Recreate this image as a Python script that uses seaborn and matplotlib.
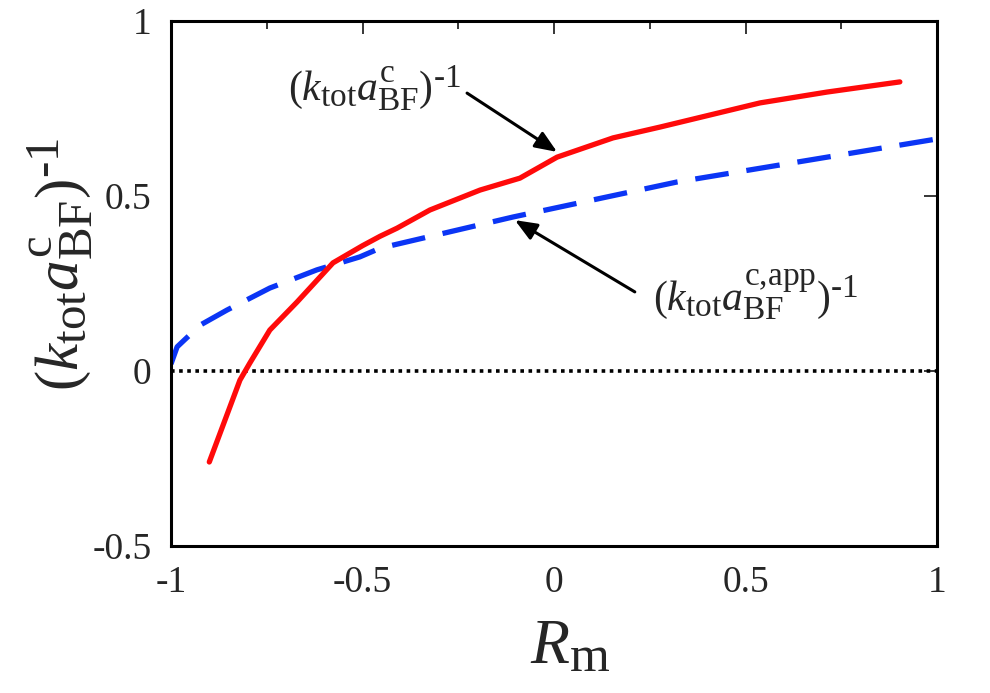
import matplotlib
matplotlib.use("Agg")
import matplotlib.pyplot as plt
import seaborn as sns
import numpy as np
from matplotlib.ticker import FixedLocator

try:
    import matplotlib._mathtext as _mt
    _mt.SHRINK_FACTOR = 0.8
except Exception:
    pass

# ---- data ----
red_x = [-0.90, -0.82, -0.794, -0.742, -0.671, -0.577, -0.50, -0.454, -0.41, -0.324,
         -0.193, -0.089, 0.008, 0.154, 0.277, 0.538, 0.713, 0.903]
red_y = [-0.26, -0.026, 0.023, 0.117, 0.197, 0.309, 0.358, 0.385, 0.408, 0.46,
         0.517, 0.551, 0.611, 0.666, 0.697, 0.766, 0.797, 0.826]

blue_x = [-1.0, -0.984, -0.924, -0.854, -0.742, -0.619, -0.507, -0.454, -0.107,
          0.321, 0.713, 1.0]
blue_y = [0.02, 0.069, 0.131, 0.174, 0.237, 0.289, 0.326, 0.351, 0.44,
          0.54, 0.611, 0.663]

x_ticks = [-1, -0.5, 0, 0.5, 1]
x_tick_labels = ["-1", "-0.5", "0", "0.5", "1"]
x_minor = [-0.75, -0.25, 0.25, 0.75]
y_ticks = [-0.5, 0, 0.5, 1]
y_tick_labels = ["-0.5", "0", "0.5", "1"]

label_red = r"$(k_{\rm tot}a_{\rm BF}^{\rm c})^{\text{-}1}$"
label_blue = r"$(k_{\rm tot}a_{\rm BF}^{\text{c,app}})^{\text{-}1}$"

sns.set_theme(style="white")
plt.rcParams["font.family"] = ["Liberation Serif", "DejaVu Serif"]
plt.rcParams["mathtext.fontset"] = "custom"
plt.rcParams["mathtext.rm"] = "Liberation Serif"
plt.rcParams["mathtext.it"] = "Liberation Serif:italic"
plt.rcParams["mathtext.bf"] = "Liberation Serif:bold"

fig = plt.figure(figsize=(9.9, 6.93), dpi=100)
ax = fig.add_axes([171/990, 1-546/693, (937-171)/990, (546-21)/693])

ax.axhline(0, color="black", lw=2.6, linestyle=(0, (1, 1.25)), zorder=1)

sns.lineplot(x=red_x, y=red_y, ax=ax, color="#ff0a0a", linewidth=3.8,
             sort=False, zorder=3)
sns.lineplot(x=blue_x, y=blue_y, ax=ax, color="#0b35f5", linewidth=3.8,
             sort=False, linestyle=(0, (6.4, 3.4)), zorder=2)

ax.set_xlim(-1, 1)
ax.set_ylim(-0.5, 1)
ax.xaxis.set_major_locator(FixedLocator(x_ticks))
ax.set_xticklabels(x_tick_labels)
ax.xaxis.set_minor_locator(FixedLocator(x_minor))
ax.yaxis.set_major_locator(FixedLocator(y_ticks))
ax.set_yticklabels(y_tick_labels)

ax.tick_params(which="both", direction="in", top=True, right=True,
               color="black", width=1.1, labelsize=27, pad=14)
ax.tick_params(which="major", length=9.5)
ax.tick_params(which="minor", length=6)
for s in ax.spines.values():
    s.set_linewidth(2.2)
    s.set_color("black")

ax.set_xlabel(r"$R_{\rm m}$", fontsize=46)
ax.xaxis.set_label_coords((570-171)/766, (546-648)/525)
ax.xaxis.label.set_va("center")
ax.set_ylabel(label_red, fontsize=44, va="center", ha="center")
ax.yaxis.set_label_coords((60-171)/766, (546-265)/525)

# annotations
ax.text(-0.695, 0.774, label_red, fontsize=30, ha="left", va="baseline")
ax.text(0.258, 0.174, label_blue, fontsize=30, ha="left", va="baseline")
arrow_kw = dict(arrowstyle="-|>,head_length=1.1,head_width=0.45",
                color="black", lw=2.2, shrinkA=0, shrinkB=0)
ax.annotate("", xy=(0.008, 0.626), xytext=(-0.227, 0.794),
            arrowprops=arrow_kw)
ax.annotate("", xy=(-0.102, 0.431), xytext=(0.211, 0.226),
            arrowprops=arrow_kw)

fig.savefig("out.png", dpi=100)
